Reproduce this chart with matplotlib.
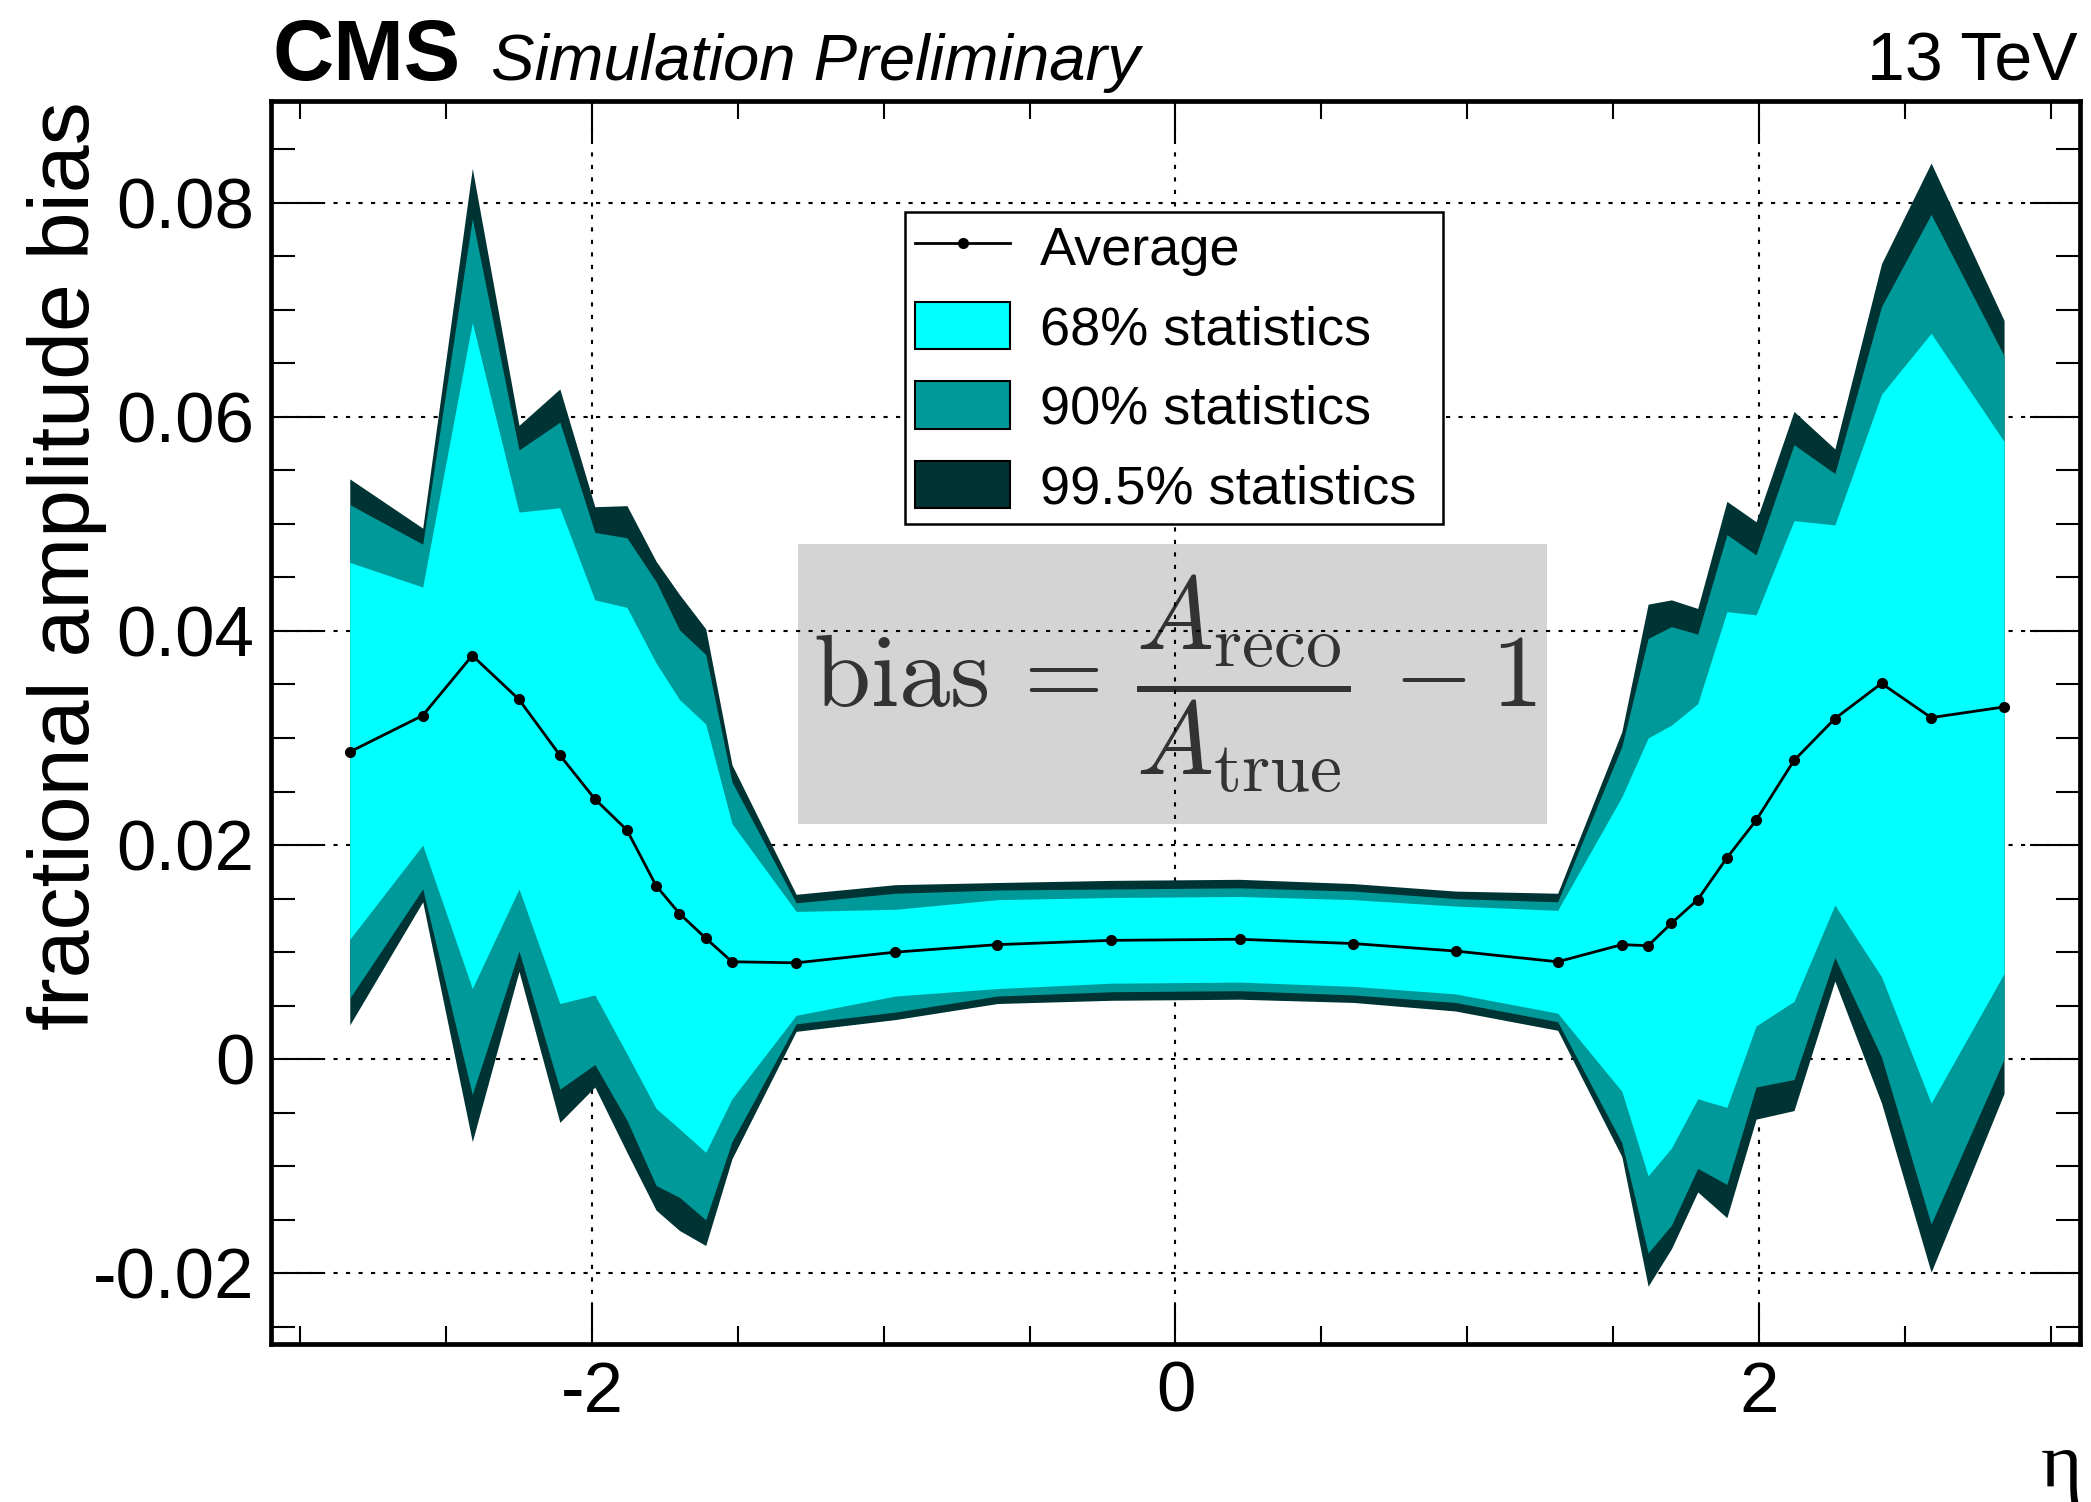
import matplotlib
matplotlib.use("Agg")
import matplotlib.pyplot as plt
from matplotlib.patches import Patch, Rectangle
from matplotlib.lines import Line2D
from matplotlib.ticker import MultipleLocator, FuncFormatter

plt.rcParams['font.family'] = ['Liberation Sans', 'DejaVu Sans']
plt.rcParams['mathtext.fontset'] = 'cm'
plt.rcParams['axes.unicode_minus'] = False

# eta ring centres
eta = [-2.83, -2.58, -2.41, -2.25, -2.11, -1.99, -1.88, -1.78, -1.70, -1.61, -1.52,
       -1.30, -0.96, -0.61, -0.22, 0.22, 0.61, 0.96, 1.31,
       1.53, 1.62, 1.70, 1.79, 1.89, 1.99, 2.12, 2.26, 2.42, 2.59, 2.84]

average = [0.0287, 0.0321, 0.0377, 0.0336, 0.0284, 0.0243, 0.0214, 0.0162, 0.0136, 0.0113, 0.0091,
           0.0090, 0.0100, 0.0107, 0.0111, 0.0112, 0.0108, 0.0101, 0.0091,
           0.0107, 0.0106, 0.0127, 0.0149, 0.0188, 0.0223, 0.0279, 0.0318, 0.0351, 0.0319, 0.0329]

# upper edges of the bands
hi995 = [0.0542, 0.0496, 0.0832, 0.0592, 0.0626, 0.0516, 0.0517, 0.0465, 0.0434, 0.0402, 0.0275,
         0.0154, 0.0163, 0.0165, 0.0167, 0.0168, 0.0164, 0.0157, 0.0155,
         0.0306, 0.0425, 0.0429, 0.0421, 0.0521, 0.0502, 0.0605, 0.0570, 0.0743, 0.0837, 0.0690]
hi90 = [0.0518, 0.0481, 0.0785, 0.0569, 0.0595, 0.0492, 0.0487, 0.0446, 0.0401, 0.0378, 0.0259,
        0.0146, 0.0155, 0.0158, 0.0159, 0.0160, 0.0157, 0.0150, 0.0147,
        0.0292, 0.0393, 0.0404, 0.0397, 0.0490, 0.0471, 0.0574, 0.0547, 0.0703, 0.0789, 0.0657]
hi68 = [0.0464, 0.0441, 0.0688, 0.0511, 0.0515, 0.0429, 0.0422, 0.0370, 0.0336, 0.0313, 0.0220,
        0.0138, 0.0140, 0.0149, 0.0151, 0.0152, 0.0149, 0.0143, 0.0139,
        0.0245, 0.0300, 0.0312, 0.0332, 0.0418, 0.0415, 0.0503, 0.0499, 0.0621, 0.0678, 0.0577]

# lower edges of the bands
lo68 = [0.0112, 0.0200, 0.0066, 0.0159, 0.0052, 0.0060, 0.0005, -0.0046, -0.0065, -0.0087, -0.0037,
        0.0041, 0.0059, 0.0066, 0.0071, 0.0072, 0.0068, 0.0061, 0.0043,
        -0.0030, -0.0109, -0.0083, -0.0037, -0.0045, 0.0031, 0.0054, 0.0144, 0.0077, -0.0041, 0.0080]
lo90 = [0.0057, 0.0159, -0.0033, 0.0101, -0.0028, -0.0005, -0.0057, -0.0118, -0.0129, -0.0150, -0.0077,
        0.0033, 0.0044, 0.0059, 0.0063, 0.0064, 0.0060, 0.0053, 0.0035,
        -0.0078, -0.0181, -0.0155, -0.0102, -0.0117, -0.0026, -0.0019, 0.0095, 0.0002, -0.0154, 0.0000]
lo995 = [0.0032, 0.0147, -0.0077, 0.0082, -0.0059, -0.0026, -0.0087, -0.0141, -0.0160, -0.0174, -0.0093,
         0.0026, 0.0037, 0.0052, 0.0055, 0.0056, 0.0053, 0.0045, 0.0027,
         -0.0091, -0.0212, -0.0177, -0.0124, -0.0148, -0.0056, -0.0048, 0.0073, -0.0041, -0.0199, -0.0032]

labels = ["Average", "68% statistics", "90% statistics", "99.5% statistics"]
c68, c90, c995 = "#00ffff", "#009999", "#003333"

fig = plt.figure(figsize=(20.91, 15.02), dpi=100)
ax = fig.add_axes([0.1296, 0.1052, 0.8651, 0.8276])

ax.set_axisbelow(True)
ax.grid(True, which='major', color='black', linestyle=(0, (2, 4)), linewidth=1.5)

# formula box sits under the grid
ax.add_patch(Rectangle((-1.292, 0.02196), 2.567, 0.02617, fc='#d3d4d3', ec='none', zorder=0.2))
ax.text(0.0, 0.0350,
        r'$\mathrm{bias}\,=\,\dfrac{A_{\mathrm{reco}}}{A_{\mathrm{true}}}\,-1$',
        fontsize=74, color='#333333', ha='center', va='center', zorder=0.3)

ax.fill_between(eta, lo995, hi995, color=c995, lw=0, zorder=1)
ax.fill_between(eta, lo90, hi90, color=c90, lw=0, zorder=1.1)
ax.fill_between(eta, lo68, hi68, color=c68, lw=0, zorder=1.2)
ax.plot(eta, average, color='black', marker='o', ms=7, lw=2, zorder=3)

ax.set_xlim(-3.1, 3.1)
ax.set_ylim(-0.0266, 0.0895)
ax.xaxis.set_major_locator(MultipleLocator(2))
ax.xaxis.set_minor_locator(MultipleLocator(0.5))
ax.yaxis.set_major_locator(MultipleLocator(0.02))
ax.yaxis.set_minor_locator(MultipleLocator(0.005))
ax.xaxis.set_major_formatter(FuncFormatter(lambda v, _: '0' if abs(v) < 1e-9 else f'{v:.0f}'))
ax.yaxis.set_major_formatter(FuncFormatter(lambda v, _: '0' if abs(v) < 1e-9 else f'{v:.2f}'))

ax.tick_params(which='both', direction='in', top=True, right=True, width=1.5,
               labelsize=51, pad=12)
ax.tick_params(axis='y', which='major', length=36)
ax.tick_params(axis='y', which='minor', length=17)
ax.tick_params(axis='x', which='major', length=29)
ax.tick_params(axis='x', which='minor', length=13)
for s in ax.spines.values():
    s.set_linewidth(3.4)

ax.set_ylabel('fractional amplitude bias', fontsize=62, loc='top')
ax.yaxis.set_label_coords(-0.0907, 1.0)

handles = [Line2D([], [], color='black', marker='o', ms=7, lw=2),
           Patch(fc=c68, ec='black', lw=1.5),
           Patch(fc=c90, ec='black', lw=1.5),
           Patch(fc=c995, ec='black', lw=1.5)]
leg = ax.legend(handles, labels, loc='upper left',
                bbox_to_anchor=(0.3505, 0.9107 - 0.25, 0.2974, 0.25), mode='expand',
                borderaxespad=0, fontsize=39, frameon=True, fancybox=False,
                edgecolor='black', framealpha=1, handlelength=1.75, handleheight=0.98,
                handletextpad=0.55, labelspacing=0.48, borderpad=0.19)
leg.get_frame().set_linewidth(1.8)

fig.text(273 / 2091, 0.9467, 'CMS', fontsize=61, fontweight='bold', va='baseline')
fig.text(491 / 2091, 0.9467, 'Simulation Preliminary', fontsize=47, style='italic', va='baseline')
fig.text(2078 / 2091, 0.9467, '13 TeV', fontsize=49, ha='right', va='baseline')
fig.text(2082 / 2091, 0.0105, 'η', fontsize=57, family=['Liberation Serif', 'DejaVu Serif'],
         ha='right', va='baseline')

fig.savefig('out.png', dpi=100)
